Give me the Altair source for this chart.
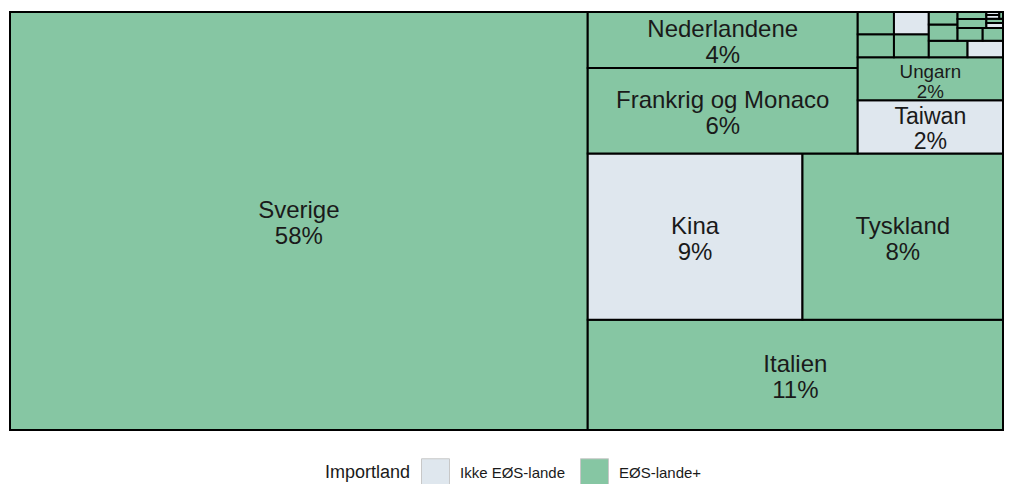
import altair as alt
import pandas as pd

# ---- data (share of imports, %) ----
countries = ["Sverige", "Italien", "Kina", "Tyskland", "Frankrig og Monaco", "Nederlandene",
             "Taiwan", "Ungarn", "Polen", "Belgien", "Spanien", "Storbritannien", "Østrig",
             "USA", "Finland", "Tjekkiet", "Norge", "Estland", "Litauen", "Portugal",
             "Indien", "Slovakiet", "Japan", "Tyrkiet", "Letland"]
shares = [58.18, 11.04, 8.60, 8.03, 5.55, 3.65, 1.86, 1.51, 0.200, 0.194, 0.193, 0.186,
          0.152, 0.139, 0.113, 0.087, 0.078, 0.063, 0.062, 0.049, 0.020, 0.017, 0.012,
          0.009, 0.006]
groups = ["EØS-lande+", "EØS-lande+", "Ikke EØS-lande", "EØS-lande+", "EØS-lande+",
          "EØS-lande+", "Ikke EØS-lande", "EØS-lande+", "EØS-lande+", "EØS-lande+",
          "EØS-lande+", "Ikke EØS-lande", "EØS-lande+", "Ikke EØS-lande", "EØS-lande+",
          "EØS-lande+", "EØS-lande+", "EØS-lande+", "EØS-lande+", "EØS-lande+",
          "Ikke EØS-lande", "EØS-lande+", "Ikke EØS-lande", "Ikke EØS-lande", "EØS-lande+"]
group_order = ["Ikke EØS-lande", "EØS-lande+"]
group_colors = ["#dfe7ee", "#86c6a3"]

W_PX, H_PX = 993, 418


# ---- squarified treemap layout in the unit square (origin bottom-left) ----
def worst(row, length):
    s = sum(row)
    t = s / length
    return max(max(t * t / a, a / (t * t)) for a in row)


def squarify(items, x, y, dx, dy, out):
    if not items:
        return
    side = min(dx, dy)
    vals = [v for _, v in items]
    i = 1
    while i < len(vals) and worst(vals[:i + 1], side) <= worst(vals[:i], side):
        i += 1
    row, rest = items[:i], items[i:]
    s = sum(v for _, v in row)
    if dx >= dy:
        t = s / dy
        yy = y
        for k, v in row:
            h = v / t
            out[k] = (x, yy, x + t, yy + h)
            yy += h
        squarify(rest, x + t, y, dx - t, dy, out)
    else:
        t = s / dx
        xx = x
        for k, v in row:
            w = v / t
            out[k] = (xx, y, xx + w, y + t)
            xx += w
        squarify(rest, x, y + t, dx, dy - t, out)


total = sum(shares)
order = sorted(range(len(shares)), key=lambda k: -shares[k])
rects = {}
squarify([(k, shares[k] / total) for k in order], 0.0, 0.0, 1.0, 1.0, rects)

rows = []
for k, name in enumerate(countries):
    x0, y0, x1, y1 = rects[k]
    hpx = (y1 - y0) * H_PX
    size = min(24.0, hpx / 2.3)
    off = 0.54 * size / H_PX
    cy = (y0 + y1) / 2 - 3.0 / H_PX
    rows.append(dict(land=name, gruppe=groups[k], andel=shares[k],
                     x0=x0, x1=x1, y0=y0, y1=y1, cx=(x0 + x1) / 2,
                     yn=cy + off, yp=cy - off, size=size,
                     pct=f"{round(shares[k] / total * 100):.0f}%",
                     show=hpx >= 40))
df = pd.DataFrame(rows)

xs = alt.Scale(domain=[0, 1], nice=False, zero=False)
ys = alt.Scale(domain=[0, 1], nice=False, zero=False)

rect = alt.Chart(df).mark_rect(stroke="black", strokeWidth=2).encode(
    x=alt.X("x0:Q", scale=xs, axis=None),
    x2="x1:Q",
    y=alt.Y("y0:Q", scale=ys, axis=None),
    y2="y1:Q",
    color=alt.Color("gruppe:N",
                    scale=alt.Scale(domain=group_order, range=group_colors),
                    legend=alt.Legend(title="Importland", orient="none",
                                      legendX=315, legendY=446,
                                      direction="horizontal", titleOrient="left",
                                      symbolType="square", symbolSize=784,
                                      symbolStrokeColor="#c8c8c8", symbolStrokeWidth=1,
                                      labelFontSize=15, titleFontSize=18,
                                      titleFontWeight="normal", titleColor="#1a1a1a",
                                      labelColor="#1a1a1a", labelFont="Liberation Sans",
                                      titleFont="Liberation Sans", columnPadding=12,
                                      labelOffset=10, titlePadding=10)),
    tooltip=["land:N", "gruppe:N", "andel:Q"],
)

labels = df[df["show"]]
names = alt.Chart(labels).mark_text(font="Liberation Sans", color="#1a1a1a",
                                    baseline="middle", align="center").encode(
    x=alt.X("cx:Q", scale=xs), y=alt.Y("yn:Q", scale=ys),
    text="land:N", size=alt.Size("size:Q", scale=None))
pcts = alt.Chart(labels).mark_text(font="Liberation Sans", color="#1a1a1a",
                                   baseline="middle", align="center").encode(
    x=alt.X("cx:Q", scale=xs), y=alt.Y("yp:Q", scale=ys),
    text="pct:N", size=alt.Size("size:Q", scale=None))

chart = alt.layer(rect, names, pcts).properties(
    width=W_PX, height=H_PX,
    autosize=alt.AutoSizeParams(type="none"),
    padding={"left": 2, "top": 4, "right": 1, "bottom": 54},
).configure_view(stroke=None)

chart.save("out.html", embed_options={"renderer": "svg", "actions": False})
